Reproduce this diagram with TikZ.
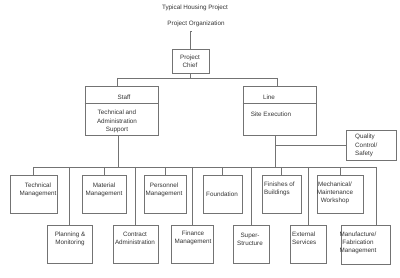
\documentclass[tikz,border=0pt]{standalone}
\usepackage{fontspec}
\setmainfont{Liberation Sans}
\begin{document}
\begin{tikzpicture}[x=1pt,y=-1pt,
  line/.style={draw=black!55,line width=0.6pt},
  box/.style={line,rectangle,inner sep=0pt},
  tbox/.style={box,minimum height=38pt},
  txt/.style={font=\fontsize{6.3}{8.3}\selectfont,text=black!80,inner sep=0pt,align=center},
  ltxt/.style={txt,align=left,anchor=west}]
\useasboundingbox (0,0) rectangle (400,278);
% titles
\node[txt] (title) at (195,8) {Typical Housing Project};
\node[txt] (org) at (196,24) {Project Organization};
% project chief
\node[box,minimum width=37pt,minimum height=24pt] (chief) at (190.5,61) {};
\node[txt] (chieft) at (190,61) {Project\\Chief};
\coordinate (orgb) at (191,31);
\draw[line] (orgb) -- (chief.north |- orgb) -- (chief.north);
% staff and line
\node[box,minimum width=73pt,minimum height=49pt] (staff) at (121.5,110.5) {};
\node[box,minimum width=73pt,minimum height=49pt] (lineb) at (279.5,110.5) {};
\draw[line] ([yshift=-18pt]staff.north west) -- ([yshift=-18pt]staff.north east);
\draw[line] ([yshift=-18pt]lineb.north west) -- ([yshift=-18pt]lineb.north east);
\node[txt] (stafft) at (124,97) {Staff};
\node[txt] (staffd) at (117,121.5) {Technical and\\Administration\\Support};
\node[txt] (linet) at (269,97) {Line};
\node[txt] (lined) at (271,114) {Site Execution};
\coordinate (busL) at (117,78);
\coordinate (busR) at (277,78);
\draw[line] (chief.south) -- (chief.south |- busL);
\draw[line] (busL) -- (busR);
\draw[line] (busL) -- (busL |- staff.north);
\draw[line] (busR) -- (busR |- lineb.north);
% quality
\node[box,minimum width=50pt,minimum height=30pt] (qc) at (371,145) {};
\node[ltxt] (qct) at (355,145.5) {Quality\\Control/\\Safety};
% lower bus
\coordinate (b1) at (33.5,167);
\coordinate (b2) at (376,167);
\coordinate (sv) at (118,167);
\coordinate (lv) at (275,167);
\draw[line] (staff.south -| sv) -- (sv);
\draw[line] (lineb.south -| lv) -- (lv);
\draw[line] (qc.west -| lv) -- (qc.west);
\draw[line] (b1) -- (b2);
% top row
\node[tbox,minimum width=47pt] (tm) at (33.5,194) {};
\node[tbox,minimum width=44pt] (mm) at (104,194) {};
\node[tbox,minimum width=42pt] (pm) at (165,194) {};
\node[tbox,minimum width=39pt] (fd) at (222.5,194) {};
\node[tbox,minimum width=39pt] (fb) at (281.5,194) {};
\node[tbox,minimum width=46pt] (mw) at (340,194) {};
\node[txt] (tmt) at (38,190) {Technical\\Management};
\node[txt] (mmt) at (104,190) {Material\\Management};
\node[txt] (pmt) at (164,190) {Personnel\\Management};
\node[txt] (fdt) at (222,194) {Foundation};
\node[ltxt] (fbt) at (264,189) {Finishes of\\Buildings};
\node[txt] (mwt) at (335,193) {Mechanical/\\Maintenance\\Workshop};
% bottom row
\node[tbox,minimum width=45pt] (pl) at (69.5,244) {};
\node[tbox,minimum width=45pt] (ca) at (135.5,244) {};
\node[tbox,minimum width=42pt] (fm) at (192,244) {};
\node[tbox,minimum width=36pt] (ss) at (251,244) {};
\node[tbox,minimum width=36pt] (es) at (308,244) {};
\node[box,minimum width=49pt,minimum height=39pt] (mf) at (365.5,244.5) {};
\node[txt] (plt) at (70,239) {Planning \&\\Monitoring};
\node[txt] (cat) at (135,238) {Contract\\Administration};
\node[txt] (fmt) at (193,238) {Finance\\Management};
\node[txt] (sst) at (250,239) {Super-\\Structure};
\node[ltxt] (est) at (292,238) {External\\Services};
\node[txt] (mft) at (358,243) {Manufacture/\\Fabrication\\Management};
% drops
\foreach \n in {tm,mm,pm,fd,fb,mw,pl,ca,fm,ss,es}
  \draw[line] (\n.north |- b1) -- (\n.north);
\draw[line] (b2) -- (b2 |- mf.north);
\end{tikzpicture}
\end{document}
